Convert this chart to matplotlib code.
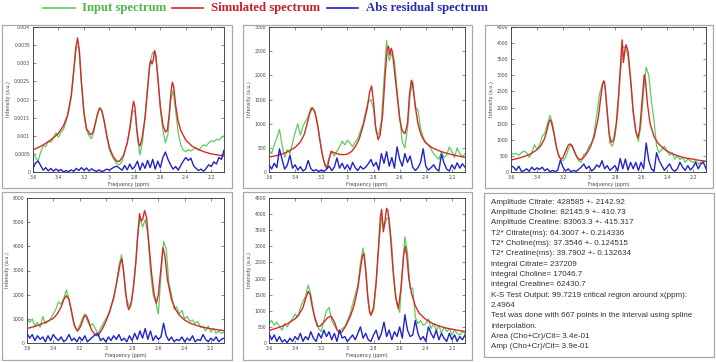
import matplotlib
matplotlib.use("Agg")
import matplotlib.pyplot as plt
from matplotlib.lines import Line2D
from matplotlib.patches import Rectangle

W, H = 716, 362

# ---------------- data ----------------
ppm = [3.60, 3.58, 3.56, 3.54, 3.52, 3.50, 3.48, 3.46, 3.44, 3.42, 3.40, 3.38, 3.36, 3.34, 3.32,
       3.30, 3.28, 3.26, 3.24, 3.22, 3.20, 3.18, 3.16, 3.14, 3.12, 3.10, 3.08, 3.06, 3.04, 3.02,
       3.00, 2.98, 2.96, 2.94, 2.92, 2.90, 2.88, 2.86, 2.84, 2.82, 2.80, 2.78, 2.76, 2.74, 2.72,
       2.70, 2.68, 2.66, 2.64, 2.62, 2.60, 2.58, 2.56, 2.54, 2.52, 2.50, 2.48, 2.46, 2.44, 2.42,
       2.40, 2.38, 2.36, 2.34, 2.32, 2.30, 2.28, 2.26, 2.24, 2.22, 2.20, 2.18, 2.16, 2.14, 2.12, 2.10]

# Panel 1
p1_green = [0.00055, 0.00040, 0.00030, 0.00055, 0.00072, 0.00070, 0.00085, 0.00082, 0.00095, 0.00108,
            0.00096, 0.00110, 0.00118, 0.00140, 0.00165, 0.00205, 0.00275, 0.00345, 0.00345, 0.00245,
            0.00160, 0.00115, 0.00100, 0.00092, 0.00115, 0.00150, 0.00172, 0.00170, 0.00135, 0.00095,
            0.00060, 0.00045, 0.00032, 0.00022, 0.00020, 0.00030, 0.00055, 0.00080, 0.00115, 0.00165,
            0.00170, 0.00095, 0.00047, 0.00085, 0.00150, 0.00235, 0.00305, 0.00330, 0.00330, 0.00270,
            0.00175, 0.00115, 0.00080, 0.00105, 0.00195, 0.00225, 0.00170, 0.00110, 0.00075, 0.00060,
            0.00056, 0.00062, 0.00058, 0.00063, 0.00066, 0.00060, 0.00068, 0.00075, 0.00072, 0.00080,
            0.00086, 0.00084, 0.00090, 0.00088, 0.00095, 0.00100]
p1_blue = [0.00010, 0.00025, 0.00030, 0.00018, 0.00005, 0.00012, 0.00003, 0.00010, 0.00002, 0.00008,
           0.00003, 0.00007, 0.00000, 0.00004, 0.00001, 0.00006, 0.00002, 0.00010, 0.00004, 0.00012,
           0.00005, 0.00011, 0.00003, 0.00009, 0.00004, 0.00002, 0.00006, 0.00001, 0.00004, 0.00008,
           0.00005, 0.00010, 0.00014, 0.00016, 0.00010, 0.00005, 0.00018, 0.00006, 0.00022, 0.00008,
           0.00015, 0.00030, 0.00005, 0.00025, 0.00010, 0.00032, 0.00012, 0.00035, 0.00008, 0.00030,
           0.00012, 0.00040, 0.00055, 0.00035, 0.00020, 0.00008, 0.00015, 0.00005, 0.00018, 0.00030,
           0.00040, 0.00032, 0.00038, 0.00018, 0.00010, 0.00004, 0.00008, 0.00002, 0.00010, 0.00020,
           0.00015, 0.00028, 0.00022, 0.00040, 0.00035, 0.00060]
p1_red_x = [3.60, 3.55, 3.50, 3.45, 3.40, 3.36, 3.33, 3.30, 3.28, 3.265, 3.25, 3.235, 3.22, 3.20, 3.18,
            3.15, 3.13, 3.11, 3.09, 3.075, 3.06, 3.04, 3.02, 3.00, 2.97, 2.94, 2.92, 2.89, 2.86, 2.84,
            2.82, 2.81, 2.80, 2.785, 2.77, 2.76, 2.745, 2.72, 2.70, 2.685, 2.675, 2.665, 2.655, 2.645,
            2.635, 2.62, 2.60, 2.58, 2.56, 2.545, 2.53, 2.515, 2.505, 2.495, 2.48, 2.46, 2.44, 2.40,
            2.35, 2.30, 2.25, 2.20, 2.15, 2.10]
p1_red = [0.00061, 0.00069, 0.00079, 0.00091, 0.00107, 0.00128, 0.00155, 0.00210, 0.00280, 0.00340,
          0.00370, 0.00330, 0.00250, 0.00165, 0.00120, 0.00103, 0.00108, 0.00135, 0.00165, 0.00177,
          0.00170, 0.00140, 0.00100, 0.00068, 0.00042, 0.00029, 0.00030, 0.00045, 0.00080, 0.00120,
          0.00175, 0.00195, 0.00180, 0.00120, 0.00078, 0.00072, 0.00090, 0.00150, 0.00230, 0.00290,
          0.00308, 0.00298, 0.00310, 0.00335, 0.00320, 0.00260, 0.00180, 0.00130, 0.00110, 0.00115,
          0.00160, 0.00225, 0.00248, 0.00235, 0.00185, 0.00140, 0.00115, 0.00088, 0.00071, 0.00062,
          0.00055, 0.00050, 0.00047, 0.00044]

# Panel 2
p2_green = [450, 380, 560, 700, 880, 560, 300, 460, 380, 600, 820, 1000, 760, 950, 1050, 1150, 1320,
            1320, 1150, 850, 480, 220, 100, 300, 420, 330, 430, 520, 640, 560, 660, 600, 520, 620,
            700, 850, 1000, 1250, 1450, 1500, 1300, 820, 780, 1050, 1900, 2720, 2300, 2450, 2300,
            1700, 1150, 620, 500, 900, 1600, 1880, 1350, 1280, 900, 720, 620, 560, 470, 380, 320,
            260, 420, 300, 350, 520, 420, 300, 500, 380, 320, 380]
p2_blue = [150, 60, 180, 90, 480, 260, 60, 140, 350, 80, 150, 40, 110, 20, 60, 240, 70, 20, 50, 10,
           40, 15, 60, 120, 30, 100, 290, 80, 180, 60, 150, 40, 200, 90, 30, 120, 60, 100, 170, 260,
           120, 200, 40, 380, 180, 420, 120, 300, 80, 520, 260, 120, 380, 200, 330, 100, 30, 90, 200,
           480, 120, 40, 90, 150, 60, 20, 370, 180, 60, 20, 150, 60, 190, 80, 170, 100]
p2_red_x = [3.60, 3.55, 3.50, 3.45, 3.40, 3.36, 3.33, 3.31, 3.29, 3.27, 3.25, 3.23, 3.21, 3.19, 3.17,
            3.155, 3.14, 3.125, 3.11, 3.08, 3.05, 3.02, 3.00, 2.97, 2.94, 2.91, 2.88, 2.85, 2.83,
            2.815, 2.80, 2.785, 2.765, 2.75, 2.73, 2.71, 2.695, 2.685, 2.675, 2.665, 2.655, 2.64,
            2.62, 2.60, 2.58, 2.56, 2.54, 2.525, 2.51, 2.50, 2.48, 2.46, 2.44, 2.42, 2.40, 2.35, 2.30,
            2.25, 2.20, 2.15, 2.10]
p2_red = [310, 335, 370, 430, 510, 620, 780, 980, 1200, 1330, 1250, 1000, 650, 330, 130, 70, 250, 430,
          410, 380, 360, 360, 370, 420, 520, 680, 950, 1300, 1650, 1780, 1450, 950, 670, 760, 1200,
          2050, 2550, 2600, 2420, 2560, 2480, 2100, 1600, 1100, 850, 790, 1000, 1600, 1900, 1800,
          1350, 1000, 800, 680, 600, 500, 440, 395, 360, 330, 305]

# Panel 3
p3_green = [600, 550, 580, 520, 600, 650, 600, 450, 600, 850, 700, 850, 1100, 1200, 1500, 1750, 1500,
            1000, 600, 400, 350, 450, 700, 850, 700, 500, 350, 300, 550, 600, 800, 900, 1200, 1800,
            2400, 2700, 2800, 1800, 900, 800, 1100, 1800, 3000, 3900, 3850, 3600, 2800, 1800, 1300,
            950, 1500, 2500, 3250, 3000, 2200, 1600, 800, 600, 700, 800, 650, 520, 600, 400, 500, 380,
            450, 300, 400, 350, 300, 350, 250, 300, 350, 320]
p3_blue = [200, 150, 50, 180, 20, 40, 100, 20, 150, 60, 130, 80, 150, 40, 100, 10, 50, 10, 60, 370,
           150, 30, 100, 10, 50, 20, 80, 150, 250, 100, 180, 30, 100, 220, 150, 350, 100, 200, 50,
           120, 200, 30, 420, 100, 400, 60, 300, 100, 300, 50, 300, 100, 900, 350, 100, 20, 600, 350,
           200, 50, 150, 250, 80, 20, 100, 300, 150, 50, 200, 60, 150, 300, 100, 250, 300, 100]
p3_red_x = [3.60, 3.55, 3.50, 3.45, 3.40, 3.37, 3.34, 3.32, 3.31, 3.30, 3.29, 3.27, 3.25, 3.23, 3.215,
            3.20, 3.18, 3.16, 3.145, 3.13, 3.11, 3.09, 3.07, 3.05, 3.02, 2.99, 2.96, 2.93, 2.91, 2.895,
            2.885, 2.875, 2.86, 2.845, 2.83, 2.81, 2.79, 2.77, 2.755, 2.745, 2.735, 2.725, 2.715,
            2.70, 2.68, 2.66, 2.64, 2.625, 2.61, 2.59, 2.575, 2.565, 2.55, 2.53, 2.50, 2.47, 2.43,
            2.40, 2.35, 2.30, 2.25, 2.20, 2.15, 2.10]
p3_red = [370, 420, 480, 560, 690, 820, 1050, 1350, 1530, 1620, 1560, 1200, 750, 470, 400, 450, 640,
          830, 870, 820, 620, 450, 380, 410, 560, 770, 1100, 1650, 2300, 2750, 2830, 2600, 1900, 1200,
          920, 1000, 1500, 2500, 3500, 4100, 3400, 3750, 3950, 3750, 2900, 1900, 1250, 1060, 1300,
          2300, 3020, 2800, 2100, 1500, 1100, 900, 740, 650, 550, 480, 430, 400, 360, 330]

# Panel 4
p4_green = [1000, 850, 1000, 700, 850, 650, 1100, 800, 900, 1000, 1200, 1400, 1700, 1600, 1850, 2200,
            1800, 1200, 700, 500, 700, 1000, 1200, 900, 700, 800, 600, 350, 600, 800, 1000, 1200, 1500,
            1800, 2400, 3200, 3650, 2800, 1800, 1500, 1800, 2800, 4300, 5150, 4800, 5100, 4500, 3000,
            2000, 1700, 1200, 2800, 4200, 3900, 2500, 2000, 1400, 1500, 1200, 1350, 1000, 1100, 900,
            950, 800, 900, 650, 700, 500, 700, 450, 600, 400, 500, 400, 450]
p4_blue = [400, 200, 350, 100, 300, 150, 250, 50, 300, 100, 350, 200, 100, 250, 50, 150, 350, 100, 200,
           50, 250, 100, 300, 50, 150, 250, 350, 400, 100, 200, 50, 250, 100, 300, 150, 350, 100, 200,
           50, 300, 100, 400, 150, 500, 200, 600, 150, 500, 100, 300, 150, 250, 820, 300, 100, 250, 50,
           150, 100, 250, 50, 200, 100, 300, 50, 150, 100, 350, 150, 50, 200, 100, 250, 50, 150, 200]
p4_red_x = [3.60, 3.55, 3.50, 3.45, 3.40, 3.37, 3.34, 3.32, 3.30, 3.28, 3.26, 3.24, 3.215, 3.19, 3.165,
            3.15, 3.13, 3.11, 3.08, 3.06, 3.03, 3.00, 2.97, 2.94, 2.91, 2.89, 2.878, 2.865, 2.85,
            2.835, 2.825, 2.81, 2.79, 2.77, 2.755, 2.743, 2.73, 2.72, 2.705, 2.69, 2.67, 2.65, 2.63,
            2.615, 2.60, 2.58, 2.565, 2.55, 2.53, 2.50, 2.47, 2.44, 2.40, 2.35, 2.30, 2.25, 2.20,
            2.15, 2.10]
p4_red = [600, 670, 760, 880, 1020, 1200, 1500, 1800, 1960, 1800, 1300, 750, 490, 700, 1100, 1150, 900,
          550, 330, 300, 550, 880, 1300, 1900, 2700, 3300, 3480, 3000, 2100, 1550, 1380, 1550, 2300,
          3400, 4600, 5350, 5050, 5100, 5480, 5200, 4000, 2800, 1950, 1650, 2000, 3100, 3950, 3600,
          2600, 1800, 1400, 1150, 950, 800, 710, 640, 590, 550, 510]

# Panel 5
p5_green = [600, 700, 550, 650, 500, 400, 600, 500, 650, 750, 900, 800, 1100, 1300, 1450, 1800, 1500,
            1000, 700, 450, 350, 700, 1000, 1100, 700, 550, 400, 350, 450, 500, 700, 900, 1200, 1500,
            1800, 2500, 2950, 2200, 1200, 850, 1000, 1800, 3000, 3900, 3600, 3850, 3900, 3000, 1800,
            1200, 950, 2200, 3300, 2800, 1700, 1700, 800, 600, 700, 550, 600, 750, 450, 600, 400, 550,
            300, 500, 350, 450, 250, 400, 300, 250, 350, 300]
p5_blue = [300, 100, 250, 50, 200, 30, 100, 10, 150, 50, 200, 100, 300, 50, 200, 100, 350, 150, 50, 300,
           150, 400, 200, 350, 100, 300, 50, 400, 150, 200, 50, 150, 250, 100, 300, 500, 150, 300, 100,
           50, 250, 400, 100, 300, 650, 200, 400, 100, 350, 200, 500, 150, 880, 400, 200, 250, 700, 300,
           100, 200, 50, 500, 300, 150, 400, 100, 300, 150, 50, 300, 100, 250, 50, 200, 100, 250]
p5_red_x = [3.60, 3.55, 3.50, 3.45, 3.40, 3.37, 3.34, 3.32, 3.30, 3.285, 3.27, 3.25, 3.23, 3.21, 3.18,
            3.15, 3.125, 3.10, 3.08, 3.06, 3.04, 3.01, 2.98, 2.95, 2.92, 2.90, 2.885, 2.873, 2.86,
            2.845, 2.83, 2.82, 2.80, 2.78, 2.76, 2.748, 2.738, 2.725, 2.715, 2.70, 2.69, 2.67, 2.65,
            2.63, 2.61, 2.59, 2.57, 2.557, 2.545, 2.53, 2.51, 2.48, 2.45, 2.40, 2.35, 2.30, 2.25,
            2.20, 2.15, 2.10]
p5_red = [390, 450, 520, 620, 750, 890, 1100, 1380, 1600, 1500, 1150, 780, 520, 520, 650, 790, 830,
          660, 420, 310, 350, 550, 800, 1150, 1700, 2300, 2700, 2780, 2300, 1500, 950, 870, 1100, 1900,
          3100, 3900, 4150, 3450, 3700, 4180, 4100, 3300, 2200, 1400, 1070, 1700, 2700, 3000, 2700,
          2000, 1550, 1150, 920, 730, 610, 530, 470, 430, 390, 360]

x_ticks = [3.6, 3.4, 3.2, 3.0, 2.8, 2.6, 2.4, 2.2]
x_ticklabels = ["3.6", "3.4", "3.2", "3", "2.8", "2.6", "2.4", "2.2"]
p1_yticks = [0, 0.0005, 0.001, 0.0015, 0.002, 0.0025, 0.003, 0.0035, 0.004]
p1_yticklabels = ["0", "0.0005", "0.001", "0.0015", "0.002", "0.0025", "0.003", "0.0035", "0.004"]
p2_yticks = [0, 500, 1000, 1500, 2000, 2500, 3000]
p3_yticks = [0, 500, 1000, 1500, 2000, 2500, 3000, 3500, 4000, 4500]
p4_yticks = [0, 1000, 2000, 3000, 4000, 5000, 6000]
p5_yticks = [0, 500, 1000, 1500, 2000, 2500, 3000, 3500, 4000, 4500]

legend_labels = ["Input spectrum", "Simulated spectrum", "Abs residual spectrum"]

info_lines = [
    "Amplitude Citrate: 428585 +- 2142.92",
    "Amplitude Choline: 82145.9 +- 410.73",
    "Amplitude Creatine: 83063.3 +- 415.317",
    "T2* Citrate(ms): 64.3007 +- 0.214336",
    "T2* Choline(ms): 37.3546 +- 0.124515",
    "T2* Creatine(ms): 39.7902 +- 0.132634",
    "integral Citrate= 237209",
    "integral Choline= 17046.7",
    "integral Creatine= 62430.7",
    "K-S Test Output: 99.7219 critical region around x(ppm):",
    "2.4964",
    "Test was done with 667 points in the interval using spline",
    "interpolation.",
    "Area (Cho+Cr)/Cit= 3.4e-01",
    "Amp (Cho+Cr)/Cit= 3.9e-01",
]

# ---------------- styling ----------------
GREEN = "#5fcc5f"
RED = "#d42a2a"
BLUE = "#2222cc"
LEG_GREEN = "#4cb84c"
LEG_RED = "#c81e28"
LEG_BLUE = "#2a2ab4"
FRAME = "#a8a8a8"

fig = plt.figure(figsize=(W / 100, H / 100), dpi=100)
fig.patch.set_facecolor("white")


def px_rect(l, t, r, b):
    return [l / W, 1 - b / H, (r - l) / W, (b - t) / H]


def frame(l, t, r, b):
    fig.add_artist(Rectangle((l / W, 1 - b / H), (r - l) / W, (b - t) / H,
                             transform=fig.transFigure, fill=False,
                             edgecolor=FRAME, linewidth=0.9))


frames = [(2, 25, 232, 188), (243, 25, 472, 188), (485, 25, 713, 188),
          (2, 192, 232, 360), (243, 192, 472, 360), (484, 193, 714, 357)]
for f in frames:
    frame(*f)

panels = [
    ((33, 27, 224, 172), p1_green, p1_red_x, p1_red, p1_blue, (0, 0.004), p1_yticks, p1_yticklabels),
    ((269, 27, 465, 172), p2_green, p2_red_x, p2_red, p2_blue, (0, 3000), p2_yticks, [str(v) for v in p2_yticks]),
    ((511, 27, 706, 172), p3_green, p3_red_x, p3_red, p3_blue, (0, 4500), p3_yticks, [str(v) for v in p3_yticks]),
    ((27, 198, 224, 343), p4_green, p4_red_x, p4_red, p4_blue, (0, 6000), p4_yticks, [str(v) for v in p4_yticks]),
    ((269, 198, 465, 343), p5_green, p5_red_x, p5_red, p5_blue, (0, 4500), p5_yticks, [str(v) for v in p5_yticks]),
]

for rect, g, rx, r, b, ylim, yt, ytl in panels:
    ax = fig.add_axes(px_rect(*rect))
    ax.plot(ppm, g, color=GREEN, lw=0.9, zorder=2)
    ax.plot(rx, r, color=RED, lw=1.0, zorder=3)
    ax.plot(ppm, b, color=BLUE, lw=1.0, zorder=4)
    ax.set_xlim(3.6, 2.1)
    ax.set_ylim(*ylim)
    ax.set_xticks(x_ticks)
    ax.set_xticklabels(x_ticklabels)
    ax.set_yticks(yt)
    ax.set_yticklabels(ytl)
    ax.tick_params(direction="in", length=2, width=0.4, labelsize=3.3, pad=2,
                   top=True, right=True, colors="#333333", labelcolor="#444444")
    for s in ax.spines.values():
        s.set_linewidth(0.6)
        s.set_color("#333333")
    ax.set_xlabel("Frequency (ppm)", fontsize=3.5, labelpad=1.5, color="#444444")
    ax.set_ylabel("Intensity (a.u.)", fontsize=3.5, labelpad=2, color="#444444")

# legend title row
leg_items = [((43, 75), 82, legend_labels[0], GREEN, LEG_GREEN),
             ((172, 203), 211, legend_labels[1], RED, LEG_RED),
             ((327, 358), 366, legend_labels[2], BLUE, LEG_BLUE)]
for (x0, x1), tx, lab, lc, tc in leg_items:
    fig.add_artist(Line2D([x0 / W, x1 / W], [1 - 7.5 / H, 1 - 7.5 / H],
                          transform=fig.transFigure, color=lc, lw=1.2))
    fig.text(tx / W, 1 - 8.5 / H, lab, color=tc, fontsize=9.2, fontweight="bold",
             family=["Liberation Serif", "DejaVu Serif"], va="center", ha="left")

# info text box
for i, line in enumerate(info_lines):
    fig.text(491 / W, 1 - (202 + i * 10.35) / H, line, fontsize=5.8, color="#333333",
             family=["Liberation Sans", "DejaVu Sans"], va="center", ha="left")

fig.savefig("out.png", dpi=100, facecolor="white")
